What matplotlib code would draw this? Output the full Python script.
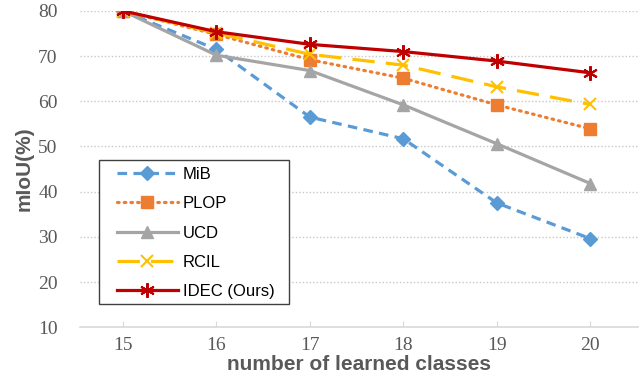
import numpy as np
import matplotlib.pyplot as plt
from matplotlib.patches import Rectangle

classes = [15, 16, 17, 18, 19, 20]
mib = [80.0, 71.5, 56.5, 51.7, 37.5, 29.6]
plop = [80.0, 74.8, 69.2, 65.1, 59.2, 53.9]
ucd = [80.0, 70.2, 66.8, 59.2, 50.6, 41.8]
rcil = [80.0, 75.1, 70.4, 68.0, 63.2, 59.3]
idec = [80.0, 75.4, 72.6, 71.0, 68.9, 66.3]

fig = plt.figure(figsize=(6.39, 3.90), dpi=100)
ax = fig.add_axes([0.125, 0.161, 0.875, 0.811])

lw = 2.3
ax.plot(classes, mib, color="#5B9BD5", lw=lw, ls=(0, (3, 2)), marker="D", ms=7.5, label="MiB")
ax.plot(classes, plop, color="#ED7D31", lw=lw, ls=(0, (0.5, 1.6)), dash_capstyle="round",
        marker="s", ms=9, label="PLOP")
ax.plot(classes, ucd, color="#A5A5A5", lw=lw, ls="-", marker="^", ms=9, label="UCD")
ax.plot(classes, rcil, color="#FFC000", lw=lw, ls=(0, (7, 3.5)), marker="x", ms=9, mew=1.5, label="RCIL")
ax.plot(classes, idec, color="#C00000", lw=lw, ls="-", marker=(6, 2, 0), ms=10.5, mew=1.5, label="IDEC (Ours)")

ax.set_xlim(14.54, 20.52)
ax.set_ylim(10, 80)
ax.set_yticks(np.arange(10, 81, 10))
ax.set_xticks(classes)

for s in ["top", "right", "left"]:
    ax.spines[s].set_visible(False)
ax.spines["bottom"].set_color("#D9D9D9")
ax.spines["bottom"].set_linewidth(1.2)
ax.grid(axis="y", color="#C8C8C8", ls=(0, (1, 1.5)), lw=1)
ax.set_axisbelow(True)

ax.tick_params(axis="y", length=0, pad=16)
ax.tick_params(axis="x", direction="in", length=4, color="#D9D9D9", pad=7)
for lab in ax.get_xticklabels() + ax.get_yticklabels():
    lab.set_fontfamily("Liberation Serif")
    lab.set_fontsize(14)
    lab.set_color("#595959")

ax.set_xlabel("number of learned classes", fontfamily="Liberation Sans", fontweight="bold",
              fontsize=15, color="#595959", labelpad=1)
ax.set_ylabel("mIoU(%)", fontfamily="Liberation Sans", fontweight="bold",
              fontsize=15, color="#595959", labelpad=3)

# legend frame drawn separately so the padding can differ per side
ax.add_patch(Rectangle((0.034, 0.073), 0.340, 0.456, transform=ax.transAxes,
                       facecolor="white", edgecolor="#404040", lw=1.0, zorder=4))
leg = ax.legend(loc="upper left", bbox_to_anchor=(0.066, 0.507), frameon=False,
                prop={"family": "Liberation Sans", "size": 12}, handlelength=3.65,
                labelspacing=0.86, borderpad=0, borderaxespad=0, handletextpad=0.3)
leg.set_zorder(5)

fig.savefig("out.png", dpi=100)
